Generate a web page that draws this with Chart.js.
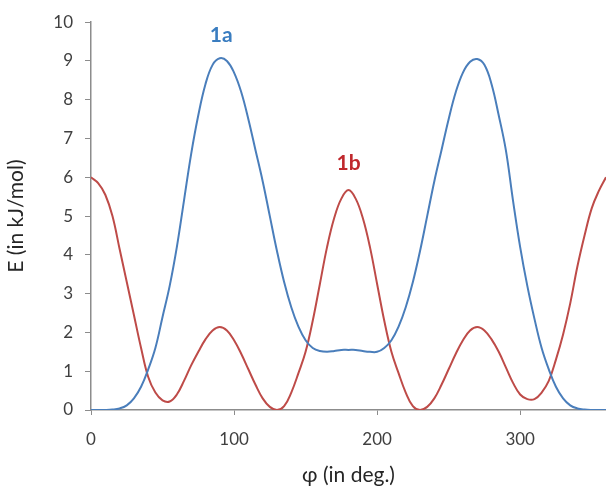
<!DOCTYPE html>
<html>
<head>
<meta charset="utf-8">
<script src="https://cdn.jsdelivr.net/npm/chart.js@4.4.1/dist/chart.umd.min.js"></script>
<style>
    html, body { margin: 0; padding: 0; background: #fff; }
    #wrap { width: 606px; height: 492px; }
</style>
</head>
<body>
<div id="wrap"><canvas id="energyChart"></canvas></div>
<script>
// dihedral angle phi (deg), 5 degree steps
const angles = [0, 5, 10, 15, 20, 25, 30, 35, 40, 45, 50, 55, 60, 65, 70, 75, 80, 85, 90, 95,
    100, 105, 110, 115, 120, 125, 130, 135, 140, 145, 150, 155, 160, 165, 170, 175, 180, 185, 190, 195,
    200, 205, 210, 215, 220, 225, 230, 235, 240, 245, 250, 255, 260, 265, 270, 275, 280, 285, 290, 295,
    300, 305, 310, 315, 320, 325, 330, 335, 340, 345, 350, 355, 360];

// E (kJ/mol) for conformer 1a
const energy1a = [0, 0, 0, 0.01, 0.04, 0.12, 0.3, 0.6, 1.05, 1.6, 2.4, 3.2, 4.2, 5.4, 6.6, 7.6, 8.4, 8.9, 9.07, 9.0,
    8.7, 8.2, 7.5, 6.7, 5.9, 5.0, 4.1, 3.3, 2.65, 2.15, 1.8, 1.6, 1.52, 1.5, 1.52, 1.55, 1.55, 1.55, 1.52, 1.5,
    1.5, 1.6, 1.8, 2.15, 2.65, 3.3, 4.1, 5.0, 5.9, 6.7, 7.5, 8.2, 8.7, 8.98, 9.05, 8.9, 8.4, 7.6, 6.7, 5.4,
    4.2, 3.2, 2.35, 1.6, 1.05, 0.6, 0.3, 0.12, 0.04, 0.01, 0, 0, 0];

// E (kJ/mol) for conformer 1b
const energy1b = [6.0, 5.85, 5.55, 5.0, 4.15, 3.3, 2.45, 1.6, 0.85, 0.45, 0.25, 0.22, 0.4, 0.75, 1.15, 1.5, 1.82, 2.05, 2.14, 2.05,
    1.8, 1.45, 1.05, 0.65, 0.3, 0.08, 0.0, 0.1, 0.45, 0.95, 1.5, 2.3, 3.25, 4.2, 4.95, 5.45, 5.67, 5.45, 4.95, 4.2,
    3.25, 2.3, 1.5, 0.95, 0.45, 0.1, 0.0, 0.08, 0.3, 0.65, 1.05, 1.45, 1.8, 2.05, 2.14, 2.05, 1.82, 1.5, 1.1, 0.7,
    0.4, 0.28, 0.28, 0.45, 0.75, 1.3, 1.95, 2.75, 3.7, 4.5, 5.2, 5.65, 6.0];

const xTicks = [0, 100, 200, 300];

// curve labels, placed in data coordinates
const curveLabels = ['1a', '1b'];
const labelAt = [[91, 9.66], [180, 6.37]];
const labelColors = ['#3a7dc0', '#c0282d'];

const lineBlue = '#4a7ebb';
const lineRed = '#be4b48';
const axisGray = '#8c8c8c';
const fontFamily = 'Lato, "Open Sans", sans-serif';

const toPoints = (ys) => angles.map((a, i) => ({ x: a, y: ys[i] }));

const curveLabelPlugin = {
    id: 'curveLabels',
    afterDatasetsDraw(chart) {
        const { ctx, scales } = chart;
        ctx.save();
        ctx.font = 'bold 21px ' + fontFamily;
        ctx.textAlign = 'center';
        ctx.textBaseline = 'middle';
        curveLabels.forEach((txt, i) => {
            ctx.fillStyle = labelColors[i];
            ctx.fillText(txt, scales.x.getPixelForValue(labelAt[i][0]), scales.y.getPixelForValue(labelAt[i][1]));
        });
        ctx.restore();
    }
};

const ctx = document.getElementById('energyChart').getContext('2d');

new Chart(ctx, {
    type: 'line',
    data: {
        datasets: [{
            label: '1a',
            data: toPoints(energy1a),
            borderColor: lineBlue,
            borderWidth: 2,
            pointRadius: 0,
            tension: 0.4,
            fill: false
        }, {
            label: '1b',
            data: toPoints(energy1b),
            borderColor: lineRed,
            borderWidth: 2,
            pointRadius: 0,
            tension: 0.4,
            fill: false
        }]
    },
    options: {
        responsive: true,
        maintainAspectRatio: false,
        animation: false,
        layout: { padding: { top: 22, right: 0, left: 0, bottom: 0 } },
        plugins: {
            legend: { display: false },
            tooltip: { enabled: false }
        },
        scales: {
            x: {
                type: 'linear',
                min: 0,
                max: 360,
                afterBuildTicks: (axis) => { axis.ticks = xTicks.map(v => ({ value: v })); },
                afterFit: (scale) => { scale.height = 82; },
                border: { color: axisGray, width: 1.5 },
                grid: { drawOnChartArea: false, color: axisGray, tickLength: 5 },
                ticks: {
                    color: '#404040',
                    font: { family: fontFamily, size: 17 },
                    padding: 14,
                    maxRotation: 0
                },
                title: {
                    display: true,
                    text: 'φ (in deg.)',
                    color: '#262626',
                    font: { family: fontFamily, size: 21 },
                    padding: { top: 0 }
                }
            },
            y: {
                min: 0,
                max: 10,
                afterFit: (scale) => { scale.width = 91; },
                border: { color: axisGray, width: 1.5 },
                grid: { drawOnChartArea: false, color: axisGray, tickLength: 6 },
                ticks: {
                    stepSize: 1,
                    color: '#404040',
                    font: { family: fontFamily, size: 17 },
                    padding: 12
                },
                title: {
                    display: true,
                    text: 'E (in kJ/mol)',
                    color: '#262626',
                    font: { family: fontFamily, size: 21 },
                    padding: { bottom: 0 }
                }
            }
        }
    },
    plugins: [curveLabelPlugin]
});
</script>
</body>
</html>
